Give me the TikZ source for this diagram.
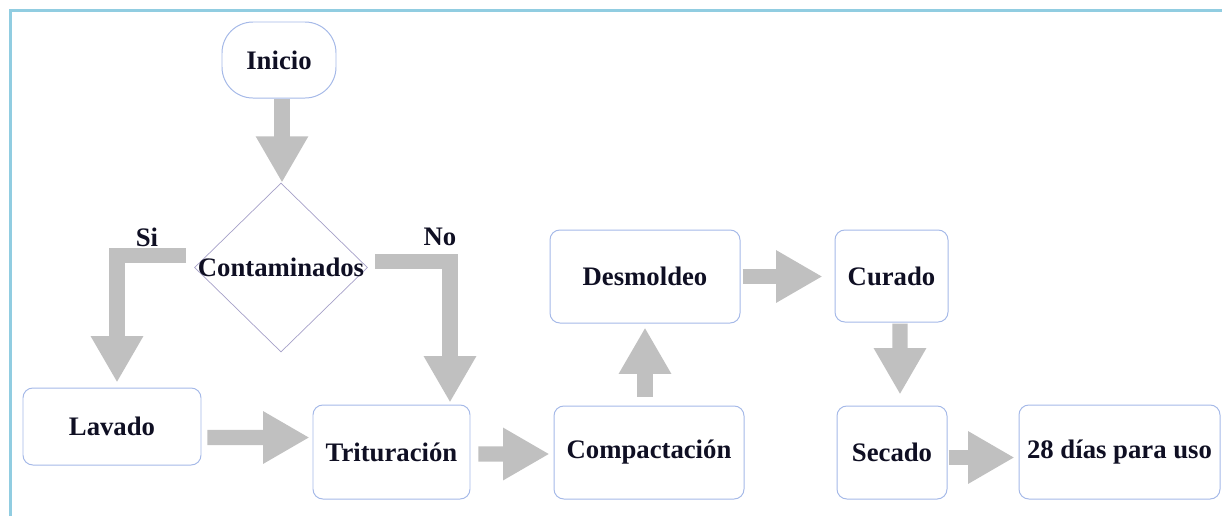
\documentclass[tikz,border=0pt]{standalone}
\usepackage{fontspec}
\setmainfont{Liberation Serif}
\usetikzlibrary{arrows.meta,shapes.geometric}
\definecolor{framecol}{RGB}{145,205,225}
\definecolor{boxcol}{RGB}{165,185,232}
\definecolor{diacol}{RGB}{165,160,200}
\definecolor{arrowgray}{RGB}{192,192,192}
\newlength\pxl
\setlength\pxl{0.025cm}
\begin{document}
\begin{tikzpicture}[x=0.025cm,y=-0.025cm,
  txt/.style={font=\fontsize{19}{21}\selectfont\bfseries, text={rgb,255:red,15;green,15;blue,35}},
  procbox/.style={txt, draw=boxcol, line width=0.7pt, rounded corners=7pt, fill=white, inner sep=0pt},
  bigarrow/.style={draw=arrowgray, line width=10.7pt, line join=miter,
    -{Triangle[width=35pt,length=33pt]}}
]
\useasboundingbox (0,0) rectangle (1222,516);
% frame
\draw[framecol, line width=1.5pt] (10.5,516) -- (10.5,10.5) -- (1222,10.5);

% nodes
\node[procbox, rounded corners=22pt, minimum width=114\pxl, minimum height=76\pxl] (ini) at (279,60) {Inicio};
\node[diamond, draw=diacol, line width=0.5pt, inner sep=0pt, aspect=1.02,
      minimum width=173\pxl, minimum height=169\pxl] (dia) at (281,267.5) {};
\node[txt] (diatext) at (281,267.5) {Contaminados};
\node[procbox, minimum width=178\pxl, minimum height=77\pxl] (lav) at (112,426.5) {Lavado};
\node[procbox, minimum width=157\pxl, minimum height=94\pxl] (trit) at (391.5,452) {Trituración};
\node[procbox, minimum width=190\pxl, minimum height=93\pxl] (comp) at (649,452.5) {Compactación};
\node[procbox, minimum width=190\pxl, minimum height=93\pxl] (desm) at (645,276.5) {Desmoldeo};
\node[procbox, minimum width=113\pxl, minimum height=92\pxl] (cur) at (891.5,276) {Curado};
\node[procbox, minimum width=110\pxl, minimum height=93\pxl] (sec) at (892,452.5) {Secado};
\node[procbox, minimum width=201\pxl, minimum height=94\pxl] (dias) at (1119.5,452) {28 días para uso};

% branch labels
\node[txt] (si) at (147,237) {Si};
\node[txt] (no) at (440,237) {No};

% free ends of the branch connectors
\coordinate (siS) at (186,255.5);
\coordinate (noS) at (375,261.5);

% connectors
\draw[bigarrow] ([shift={(3,0)}]ini.south) -- ([shift={(1,0)}]dia.north);
\draw[bigarrow] (siS) -| ([shift={(5,-5)}]lav.north);
\draw[bigarrow] (noS) -| ([shift={(58.5,-2)}]trit.north);
\draw[bigarrow] ([shift={(6,11)}]lav.east) -- ([shift={(-3,-14.5)}]trit.west);
\draw[bigarrow] ([shift={(8,2)}]trit.east) -- ([shift={(-4,1.5)}]comp.west);
\draw[bigarrow] ([shift={(-4,-9)}]comp.north) -- ([shift={(0,4)}]desm.south);
\draw[bigarrow] ([shift={(2,0)}]desm.east) -- ([shift={(-12,0.5)}]cur.west);
\draw[bigarrow] ([shift={(8.5,1)}]cur.south) -- ([shift={(8,-11)}]sec.north);
\draw[bigarrow] ([shift={(1,5)}]sec.east) -- ([shift={(-4,5.5)}]dias.west);
\end{tikzpicture}
\end{document}
